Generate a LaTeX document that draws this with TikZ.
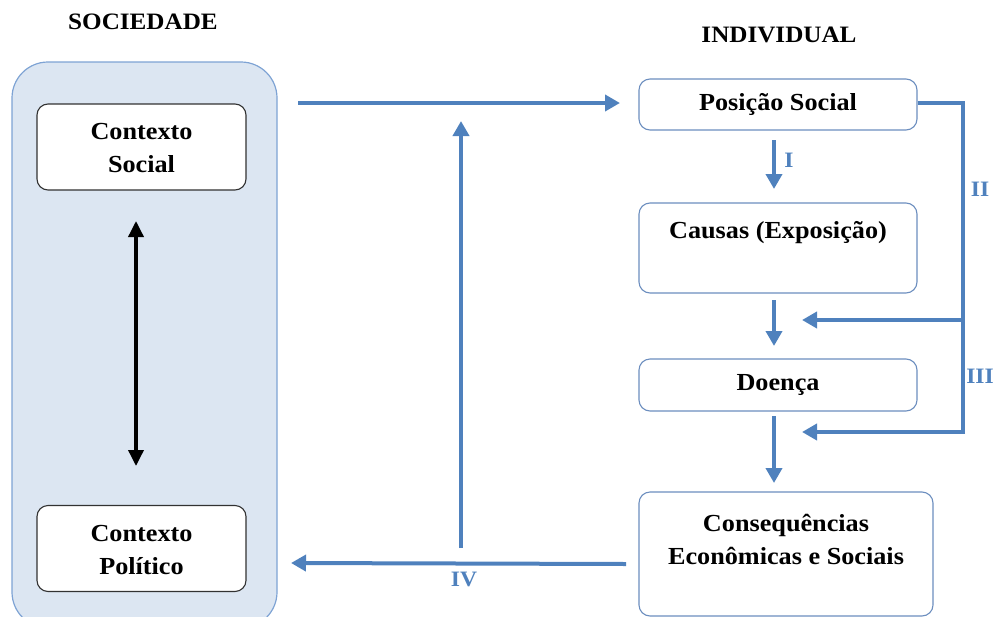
\documentclass[tikz,border=0pt]{standalone}
\usepackage{fontspec}
\setmainfont{Liberation Serif}[FakeStretch=1.07]
\usetikzlibrary{arrows.meta,calc}
\definecolor{lblue}{RGB}{79,129,189}
\definecolor{outfill}{RGB}{220,230,242}
\definecolor{outdraw}{RGB}{126,163,212}
\definecolor{boxdraw}{RGB}{108,142,191}
\definecolor{ctxdraw}{RGB}{50,50,50}
\tikzset{
  outerbox/.style={draw=outdraw, fill=outfill, line width=1.2pt, rounded corners=36pt, inner sep=0pt},
  ctxbox/.style={draw=ctxdraw, fill=white, line width=1.1pt, rounded corners=11pt, inner sep=0pt, minimum width=209pt, minimum height=86pt},
  indbox/.style={draw=boxdraw, fill=white, line width=1.1pt, rounded corners=11pt, inner sep=0pt},
  txt/.style={font=\bfseries\fontsize{24.5}{33}\selectfont, align=center, inner sep=0pt},
  hdr/.style={font=\bfseries\fontsize{23.5}{28}\selectfont, inner sep=0pt},
  lbl/.style={font=\bfseries\fontsize{22}{26}\selectfont, text=lblue, inner sep=0pt},
  bluearrow/.style={draw=lblue, line width=4pt, -{Triangle[length=15pt,width=16pt]}},
  blueline/.style={draw=lblue, line width=4pt, line join=miter},
  blackarrow/.style={draw=black, line width=3.5pt, {Triangle[length=16pt,width=15pt]}-{Triangle[length=16pt,width=15pt]}}
}
\begin{document}
\begin{tikzpicture}[x=1pt,y=-1pt]
\useasboundingbox (0,0) rectangle (993,616);
% headers
\node[hdr] (hsoc) at (143,22) {SOCIEDADE};
\node[hdr] (hind) at (779,35) {INDIVIDUAL};
% society container
\node[outerbox, minimum width=265pt, minimum height=566pt] (soc) at (144.5,345) {};
\node[ctxbox] (cs) at (141.5,147) {};
\node[txt] (cst) at (141.5,148) {Contexto\\Social};
\node[ctxbox] (cp) at (141.5,548.5) {};
\node[txt] (cpt) at (141.5,550) {Contexto\\Político};
\coordinate (da1) at (136,221);
\coordinate (da2) at (136,466);
\draw[blackarrow] (da1) -- (da2);
% individual boxes
\node[indbox, minimum width=278pt, minimum height=51pt] (pos) at (778,104.5) {};
\node[txt] (post) at (778,104) {Posição Social};
\node[indbox, minimum width=278pt, minimum height=90pt] (cau) at (778,248) {};
\node[txt] (caut) at (778,233) {Causas (Exposição)};
\node[indbox, minimum width=278pt, minimum height=52pt] (doe) at (778,385) {};
\node[txt] (doet) at (778,385) {Doença};
\node[indbox, minimum width=294pt, minimum height=124pt] (con) at (786,554) {};
\node[txt] (cont) at (786,539) {Consequências\\Econômicas e Sociais};
% vertical chain
\coordinate (a1s) at (774,140);
\coordinate (a1e) at (774,189);
\draw[bluearrow] (a1s) -- (a1e);
\node[lbl] (l1) at (789,160) {I};
\coordinate (a2s) at (774,300);
\coordinate (a2e) at (774,346);
\draw[bluearrow] (a2s) -- (a2e);
\coordinate (a3s) at (774,416);
\coordinate (a3e) at (774,483);
\draw[bluearrow] (a3s) -- (a3e);
% II / III bracket
\coordinate (br1) at (963,103);
\coordinate (br2) at (963,320);
\coordinate (br3) at (963,432);
\coordinate (t2) at (802,320);
\coordinate (t3) at (802,432);
\draw[blueline] (pos.east |- br1) -- (br1) -- (br3);
\draw[bluearrow] (br2) -- (t2);
\draw[bluearrow] ($(br3)+(2,0)$) -- (t3);
\node[lbl] (l2) at (980,189) {II};
\node[lbl] (l3) at (980,376) {III};
% society <-> individual arrows
\coordinate (topS) at (298,103);
\coordinate (topE) at (620,103);
\draw[bluearrow] (topS) -- (topE);
\coordinate (upS) at (461,548);
\coordinate (upE) at (461,121);
\draw[bluearrow] (upS) -- (upE);
\coordinate (botS) at (626,564);
\coordinate (botE) at (291,563);
\draw[bluearrow] (botS) -- (botE);
\node[lbl] (l4) at (464,579) {IV};
\end{tikzpicture}
\end{document}
